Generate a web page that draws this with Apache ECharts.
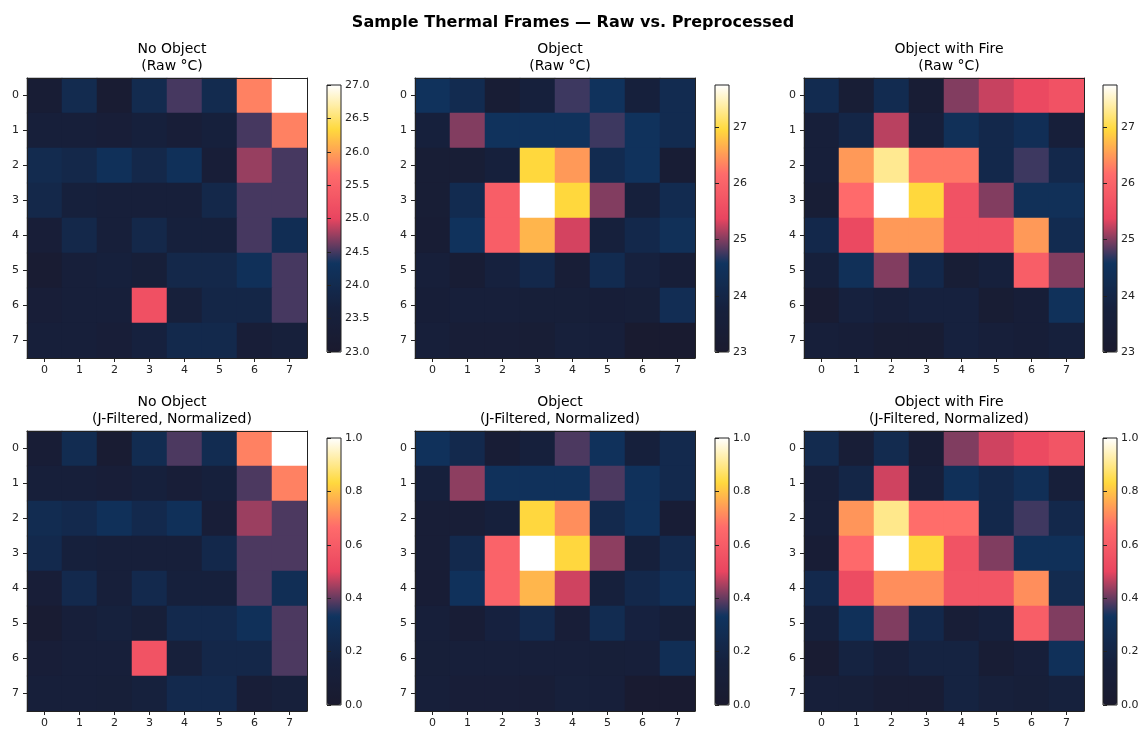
<!DOCTYPE html>
<html>
<head>
<meta charset="utf-8">
<title>Sample Thermal Frames</title>
<script src="https://cdn.jsdelivr.net/npm/echarts@6/dist/echarts.min.js"></script>
<style>
    html, body { margin: 0; padding: 0; background: #fff; }
    #chart { width: 1146px; height: 733px; }
</style>
</head>
<body>
<div id="chart"></div>
<script>
// 8x8 frames, row 0 at top
const xLabels = ["0", "1", "2", "3", "4", "5", "6", "7"];
const yLabels = ["0", "1", "2", "3", "4", "5", "6", "7"];

const rawNoObject = [
    [23.3, 24.0, 23.2, 24.0, 24.5, 24.0, 25.8, 27.0],
    [23.5, 23.5, 23.4, 23.6, 23.4, 23.6, 24.5, 25.8],
    [24.0, 23.9, 24.2, 23.9, 24.2, 23.4, 24.75, 24.5],
    [23.9, 23.6, 23.5, 23.5, 23.5, 23.9, 24.5, 24.5],
    [23.4, 23.9, 23.5, 23.9, 23.6, 23.6, 24.5, 24.1],
    [23.2, 23.5, 23.6, 23.45, 23.9, 23.9, 24.2, 24.5],
    [23.4, 23.5, 23.5, 25.2, 23.55, 23.85, 23.85, 24.5],
    [23.5, 23.5, 23.4, 23.65, 23.95, 23.95, 23.4, 23.55]
];
const rawObject = [
    [24.5, 24.2, 23.35, 23.7, 24.75, 24.5, 23.7, 24.2],
    [23.7, 25.0, 24.5, 24.5, 24.5, 24.75, 24.5, 24.2],
    [23.4, 23.4, 23.7, 26.95, 26.5, 24.2, 24.5, 23.35],
    [23.4, 24.2, 25.9, 27.75, 26.95, 25.0, 23.7, 24.2],
    [23.35, 24.5, 25.9, 26.7, 25.3, 23.7, 24.1, 24.4],
    [23.6, 23.35, 23.8, 24.1, 23.45, 24.2, 23.8, 23.5],
    [23.5, 23.6, 23.6, 23.55, 23.55, 23.5, 23.55, 24.3],
    [23.6, 23.45, 23.45, 23.4, 23.65, 23.6, 23.1, 23.1]
];
const rawFire = [
    [24.2, 23.4, 24.2, 23.35, 25.0, 25.25, 25.45, 25.65],
    [23.6, 24.0, 25.2, 23.6, 24.4, 24.1, 24.35, 23.6],
    [23.6, 26.5, 27.3, 26.25, 26.25, 24.1, 24.75, 24.1],
    [23.4, 26.15, 27.75, 26.95, 25.65, 25.0, 24.4, 24.4],
    [24.1, 25.45, 26.5, 26.5, 25.65, 25.65, 26.5, 24.2],
    [23.7, 24.4, 25.0, 24.1, 23.4, 23.7, 25.9, 25.0],
    [23.25, 23.8, 23.6, 23.8, 23.8, 23.3, 23.5, 24.45],
    [23.6, 23.5, 23.3, 23.3, 23.8, 23.6, 23.5, 23.7]
];
const normNoObject = [
    [0.08, 0.26, 0.05, 0.26, 0.38, 0.26, 0.70, 1.0],
    [0.12, 0.12, 0.10, 0.15, 0.10, 0.15, 0.38, 0.70],
    [0.26, 0.24, 0.30, 0.24, 0.30, 0.10, 0.44, 0.38],
    [0.24, 0.15, 0.12, 0.13, 0.13, 0.23, 0.38, 0.38],
    [0.10, 0.24, 0.12, 0.24, 0.15, 0.15, 0.38, 0.28],
    [0.05, 0.13, 0.16, 0.11, 0.24, 0.24, 0.30, 0.38],
    [0.10, 0.13, 0.13, 0.56, 0.14, 0.22, 0.22, 0.38],
    [0.13, 0.13, 0.11, 0.16, 0.24, 0.24, 0.10, 0.14]
];
const normObject = [
    [0.31, 0.24, 0.08, 0.15, 0.38, 0.31, 0.15, 0.24],
    [0.15, 0.43, 0.31, 0.31, 0.31, 0.38, 0.31, 0.24],
    [0.09, 0.09, 0.15, 0.83, 0.72, 0.24, 0.31, 0.08],
    [0.09, 0.24, 0.63, 1.0, 0.83, 0.43, 0.15, 0.24],
    [0.08, 0.31, 0.63, 0.78, 0.48, 0.15, 0.23, 0.29],
    [0.13, 0.08, 0.17, 0.24, 0.10, 0.26, 0.17, 0.11],
    [0.11, 0.13, 0.13, 0.12, 0.12, 0.11, 0.12, 0.28],
    [0.13, 0.10, 0.10, 0.09, 0.14, 0.13, 0.03, 0.03]
];
const normFire = [
    [0.25, 0.09, 0.25, 0.08, 0.42, 0.48, 0.52, 0.57],
    [0.13, 0.21, 0.48, 0.13, 0.30, 0.23, 0.29, 0.12],
    [0.13, 0.73, 0.90, 0.67, 0.67, 0.23, 0.37, 0.23],
    [0.08, 0.66, 1.0, 0.83, 0.56, 0.42, 0.30, 0.30],
    [0.24, 0.53, 0.72, 0.72, 0.57, 0.57, 0.72, 0.25],
    [0.15, 0.30, 0.42, 0.23, 0.09, 0.15, 0.61, 0.42],
    [0.05, 0.18, 0.13, 0.18, 0.18, 0.07, 0.12, 0.30],
    [0.13, 0.11, 0.07, 0.07, 0.18, 0.14, 0.11, 0.16]
];

const panelNames = ["No Object", "Object", "Object with Fire"];
const rowSubtitles = ["(Raw °C)", "(J-Filtered, Normalized)"];
const frames = [
    [rawNoObject, rawObject, rawFire],
    [normNoObject, normObject, normFire]
];
// colour scale range and colorbar ticks per panel
const scaleMin = [[23, 23, 23], [0, 0, 0]];
const scaleMax = [[27.0, 27.75, 27.75], [1, 1, 1]];
const tickStep = [[0.5, 1, 1], [0.2, 0.2, 0.2]];
const tickDigits = [[1, 0, 0], [1, 1, 1]];
const showTopTick = [[true, false, false], [true, true, true]];

const thermalColors = ["#1a1a2e", "#16213e", "#0f3460", "#e94560", "#ff6b6b", "#ffd93d", "#ffffff"];

const FONT = "DejaVu Sans";
const gridLeft = [27, 415, 804];
const gridTop = [78, 431];
const gridSize = 280;
const barLeft = [327, 715, 1103];
const barTop = [85, 438];
const barWidth = 14;
const barHeight = 267;

let titles = [{
    text: "Sample Thermal Frames — Raw vs. Preprocessed",
    left: "center",
    top: 10,
    textStyle: { fontFamily: FONT, fontSize: 16, fontWeight: "bold", color: "#000" }
}];
let grids = [];
let xAxes = [];
let yAxes = [];
let visualMaps = [];
let series = [];

for (let r = 0; r < 2; r++) {
    for (let c = 0; c < 3; c++) {
        const k = grids.length;
        // heatmap panel
        grids.push({ left: gridLeft[c], top: gridTop[r], width: gridSize, height: gridSize });
        titles.push({
            text: panelNames[c] + "\n" + rowSubtitles[r],
            left: gridLeft[c] + gridSize / 2,
            top: gridTop[r] - 42,
            textAlign: "center",
            textStyle: { fontFamily: FONT, fontSize: 14, fontWeight: "normal", color: "#000", lineHeight: 17 }
        });
        xAxes.push({
            type: "category", data: xLabels, gridIndex: k, z: 10,
            axisLine: { show: true, onZero: false, lineStyle: { color: "#222", width: 1 } },
            axisTick: { show: true, alignWithLabel: true, length: 4, lineStyle: { color: "#222" } },
            axisLabel: { fontFamily: FONT, fontSize: 11, color: "#222", margin: 7 },
            splitLine: { show: false }
        });
        xAxes.push({
            type: "category", data: xLabels, gridIndex: k, position: "top", z: 10,
            axisLine: { show: true, onZero: false, lineStyle: { color: "#222", width: 1 } },
            axisTick: { show: false }, axisLabel: { show: false }
        });
        yAxes.push({
            type: "category", data: yLabels, gridIndex: k, inverse: true, z: 10,
            axisLine: { show: true, onZero: false, lineStyle: { color: "#222", width: 1 } },
            axisTick: { show: true, alignWithLabel: true, length: 4, lineStyle: { color: "#222" } },
            axisLabel: { fontFamily: FONT, fontSize: 11, color: "#222", margin: 8 },
            splitLine: { show: false }
        });
        yAxes.push({
            type: "category", data: yLabels, gridIndex: k, inverse: true, position: "right", z: 10,
            axisLine: { show: true, onZero: false, lineStyle: { color: "#222", width: 1 } },
            axisTick: { show: false }, axisLabel: { show: false }
        });

        let cells = [];
        frames[r][c].forEach((row, yi) => {
            row.forEach((v, xi) => cells.push([xi, yi, v]));
        });
        const seriesIdx = series.length;
        series.push({
            type: "heatmap",
            xAxisIndex: 2 * k,
            yAxisIndex: 2 * k,
            data: cells,
            itemStyle: { borderWidth: 0 },
            emphasis: { disabled: true },
            silent: true,
            progressive: 0
        });

        visualMaps.push({
            type: "continuous",
            seriesIndex: seriesIdx,
            min: scaleMin[r][c],
            max: scaleMax[r][c],
            inRange: { color: thermalColors },
            orient: "vertical",
            left: barLeft[c],
            top: barTop[r],
            itemWidth: barWidth,
            itemHeight: barHeight,
            padding: 0,
            text: null,
            showLabel: false,
            calculable: false,
            hoverLink: false,
            z: 5
        });

        // colorbar ticks and frame
        const g = grids.length;
        grids.push({
            left: barLeft[c], top: barTop[r], width: barWidth, height: barHeight,
            show: true, backgroundColor: "transparent", borderColor: "#222", borderWidth: 1, z: 8
        });
        xAxes.push({ type: "value", gridIndex: g, show: false, min: 0, max: 1 });
        xAxes.push({ type: "value", gridIndex: g, show: false, min: 0, max: 1 });
        const digits = tickDigits[r][c];
        yAxes.push({
            type: "value", gridIndex: g, position: "right", z: 10,
            min: scaleMin[r][c], max: scaleMax[r][c], interval: tickStep[r][c],
            axisLine: { show: false },
            axisTick: { show: true, length: 4, lineStyle: { color: "#222" } },
            axisLabel: {
                fontFamily: FONT, fontSize: 11, color: "#222", margin: 4,
                showMaxLabel: showTopTick[r][c],
                formatter: v => v.toFixed(digits)
            },
            splitLine: { show: false }
        });
        yAxes.push({ type: "value", gridIndex: g, show: false, min: 0, max: 1 });
        series.push({
            type: "scatter",
            xAxisIndex: 2 * g,
            yAxisIndex: 2 * g,
            data: [],
            silent: true
        });
    }
}

const chart = echarts.init(document.getElementById("chart"), null, { renderer: "canvas" });
chart.setOption({
    backgroundColor: "#ffffff",
    animation: false,
    title: titles,
    grid: grids,
    xAxis: xAxes,
    yAxis: yAxes,
    visualMap: visualMaps,
    series: series
});
</script>
</body>
</html>
